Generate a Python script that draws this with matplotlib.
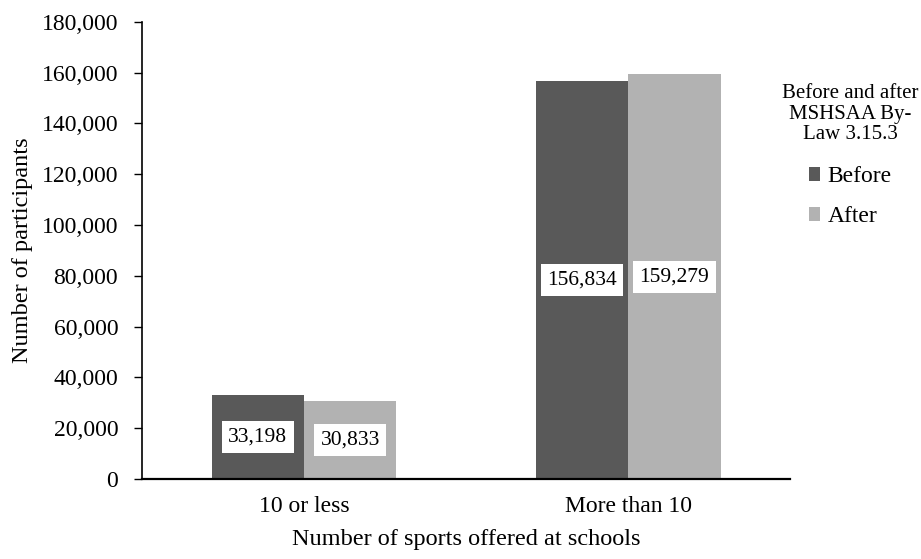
import matplotlib
matplotlib.use('Agg')
import matplotlib.pyplot as plt
import numpy as np
from matplotlib.ticker import FuncFormatter

categories = ['10 or less', 'More than 10']
before = [33198, 156834]
after = [30833, 159279]
series_names = ['Before', 'After']
legend_title = 'Before and after\nMSHSAA By-\nLaw 3.15.3'

plt.rcParams['font.family'] = ['Liberation Serif', 'DejaVu Serif']

fig = plt.figure(figsize=(9.21, 5.59), dpi=100)
ax = fig.add_axes([0.154, 0.143, 0.704, 0.818])

x = np.arange(len(categories))
width = 0.285
colors = ['#595959', '#b2b2b2']

bars_before = ax.bar(x - width / 2, before, width, color=colors[0], label=series_names[0])
bars_after = ax.bar(x + width / 2, after, width, color=colors[1], label=series_names[1])

# value boxes sit in the middle of each bar
for bars in (bars_before, bars_after):
    for b in bars:
        h = b.get_height()
        ax.text(b.get_x() + b.get_width() / 2, h / 2, f'{h:,.0f}',
                ha='center', va='center', fontsize=15.5,
                bbox=dict(boxstyle='square,pad=0.3', fc='white', ec='none'))

ax.set_xlim(-0.5, 1.5)
ax.set_ylim(0, 180000)
ax.set_yticks(np.arange(0, 180001, 20000))
ax.yaxis.set_major_formatter(FuncFormatter(lambda v, p: f'{v:,.0f}'))
ax.set_xticks(x)
ax.set_xticklabels(categories)
ax.tick_params(axis='x', length=0, labelsize=17, pad=12)
ax.tick_params(axis='y', length=6, width=1, labelsize=17, direction='out', pad=11)

for side in ('top', 'right'):
    ax.spines[side].set_visible(False)
ax.spines['left'].set_linewidth(1.2)
ax.spines['bottom'].set_linewidth(1.6)

ax.set_xlabel('Number of sports offered at schools', fontsize=17.5, labelpad=9)
ax.set_ylabel('Number of participants', fontsize=17.5, labelpad=6)

leg = fig.legend(loc='upper center', bbox_to_anchor=(0.923, 0.87), frameon=False,
                 title=legend_title, title_fontsize=15, fontsize=17,
                 handlelength=0.5, handleheight=0.5, handletextpad=0.3,
                 labelspacing=0.8, borderpad=0, alignment='center')
leg.get_title().set_linespacing(1.1)
leg.get_title().set_multialignment('center')
# a bit more room between the title block and the entries
leg._legend_box.sep = 16

fig.savefig('out.png', dpi=100)
